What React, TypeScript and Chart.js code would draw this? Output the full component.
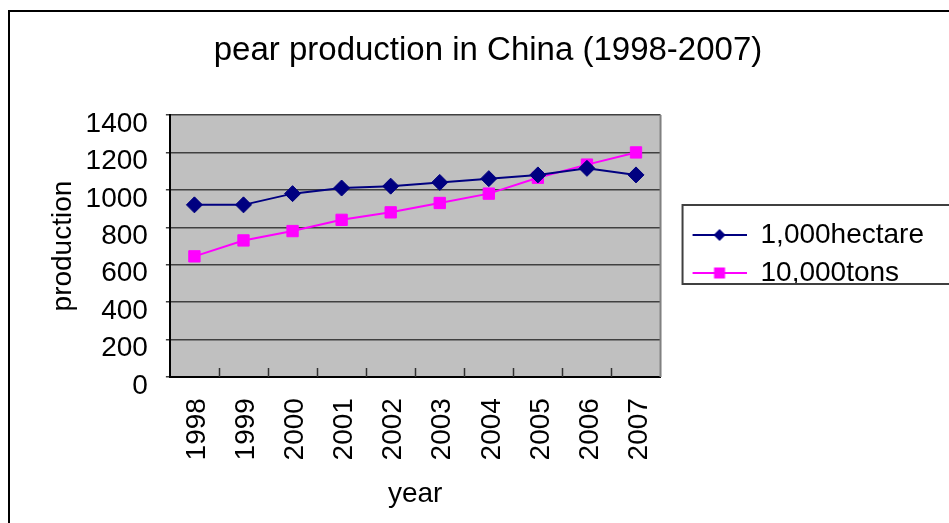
import React, { useEffect, useRef } from 'react';
import { Chart, registerables } from 'chart.js';

Chart.register(...registerables);

const years = ['1998', '1999', '2000', '2001', '2002', '2003', '2004', '2005', '2006', '2007'];
const hectares = [920, 920, 980, 1010, 1020, 1040, 1060, 1080, 1115, 1080];
const tons = [645, 730, 780, 840, 880, 930, 980, 1065, 1135, 1200];
const seriesNames = ['1,000hectare', '10,000tons'];
const chartTitle = 'pear production in China (1998-2007)';
const xTitle = 'year';
const yTitle = 'production';

const W = 1000;
const H = 560;
const FONT = 'Liberation Sans, Arial, Helvetica, sans-serif';
const NAVY = '#000080';
const MAGENTA = '#FF00FF';

function makeSample(color: string, style: string) {
  const c = document.createElement('canvas');
  c.width = 76;
  c.height = 22;
  const g = c.getContext('2d')!;
  g.strokeStyle = color;
  g.lineWidth = 2;
  g.beginPath();
  g.moveTo(22, 11);
  g.lineTo(76, 11);
  g.stroke();
  g.fillStyle = color;
  const cx = 49;
  const cy = 11;
  if (style === 'rectRot') {
    g.beginPath();
    g.moveTo(cx - 6, cy);
    g.lineTo(cx, cy - 6);
    g.lineTo(cx + 6, cy);
    g.lineTo(cx, cy + 6);
    g.closePath();
    g.fill();
  } else {
    g.fillRect(cx - 5.5, cy - 5.5, 11, 11);
  }
  return c;
}

const LEGEND_BOX_TOP = 205;
const LEGEND_BOX_H = 79;

const decorPlugin = {
  id: 'decor',
  afterLayout(chart: any) {
    const lg = chart.legend;
    if (lg && lg.columnSizes && lg.columnSizes.length === 1) {
      lg.top = 204;
      lg.bottom = 304;
    }
  },
  beforeDraw(chart: any) {
    const { ctx, chartArea } = chart;
    ctx.save();
    ctx.fillStyle = '#ffffff';
    ctx.fillRect(0, 0, chart.width, chart.height);
    ctx.strokeStyle = '#000';
    ctx.lineWidth = 2;
    ctx.strokeRect(9, 11, chart.width + 20, chart.height + 20);
    ctx.fillStyle = '#C0C0C0';
    ctx.fillRect(chartArea.left, chartArea.top, chartArea.right - chartArea.left, chartArea.bottom - chartArea.top);
    ctx.restore();
  },
  beforeDatasetsDraw(chart: any) {
    const { ctx, chartArea } = chart;
    const xs = chart.scales.x;
    ctx.save();
    ctx.strokeStyle = '#808080';
    ctx.lineWidth = 2;
    ctx.beginPath();
    ctx.moveTo(chartArea.right, chartArea.top);
    ctx.lineTo(chartArea.right, chartArea.bottom);
    ctx.stroke();
    ctx.strokeStyle = '#303030';
    ctx.lineWidth = 1.5;
    ctx.beginPath();
    for (let i = 1; i < years.length; i++) {
      const px = Math.round(xs.getPixelForValue(i - 0.5)) + 0.5;
      ctx.moveTo(px, chartArea.bottom);
      ctx.lineTo(px, chartArea.bottom - 9);
    }
    ctx.stroke();
    ctx.restore();
  },
  afterDraw(chart: any) {
    const lg = chart.legend;
    if (!lg) return;
    const ctx = chart.ctx;
    const bx = lg.left + 22;
    ctx.save();
    ctx.fillStyle = '#ffffff';
    ctx.fillRect(bx - 2, LEGEND_BOX_TOP + LEGEND_BOX_H, chart.width, 20);
    ctx.strokeStyle = '#404040';
    ctx.lineWidth = 2;
    ctx.strokeRect(bx, LEGEND_BOX_TOP, chart.width, LEGEND_BOX_H);
    ctx.restore();
  },
};

export default function App() {
  const ref = useRef<HTMLCanvasElement | null>(null);

  useEffect(() => {
    if (!ref.current) return;
    const samples = [makeSample(NAVY, 'rectRot'), makeSample(MAGENTA, 'rect')];
    const chart = new Chart(ref.current, {
      type: 'line',
      data: {
        labels: years,
        datasets: [
          {
            label: seriesNames[0],
            data: hectares,
            borderColor: NAVY,
            backgroundColor: NAVY,
            borderWidth: 2,
            pointStyle: 'rectRot',
            pointRadius: 8,
            pointBorderWidth: 1,
            tension: 0,
          },
          {
            label: seriesNames[1],
            data: tons,
            borderColor: MAGENTA,
            backgroundColor: MAGENTA,
            borderWidth: 2,
            pointStyle: 'rect',
            pointRadius: 8,
            pointBorderWidth: 1,
            tension: 0,
          },
        ],
      },
      options: {
        responsive: false,
        animation: false,
        devicePixelRatio: 1,
        layout: { padding: { left: 42, top: 12, right: 66, bottom: 49 } },
        plugins: {
          tooltip: { enabled: false },
          title: {
            display: true,
            text: chartTitle,
            color: '#000',
            font: { family: FONT, size: 33, weight: 'normal' },
            padding: { top: 19, bottom: 44.4 },
          },
          legend: {
            display: true,
            position: 'right',
            fullSize: false,
            maxWidth: 320,
            labels: {
              usePointStyle: true,
              pointStyleWidth: 76,
              padding: 10,
              color: '#000',
              font: { family: FONT, size: 28 },
              generateLabels: (ch: any) =>
                ch.data.datasets.map((ds: any, i: number) => ({
                  text: ds.label,
                  pointStyle: samples[i],
                  fillStyle: ds.backgroundColor,
                  strokeStyle: ds.borderColor,
                  lineWidth: 0,
                  hidden: false,
                  datasetIndex: i,
                  fontColor: '#000',
                })),
            },
          },
        },
        scales: {
          x: {
            type: 'category',
            offset: true,
            grid: { offset: true, drawOnChartArea: false, drawTicks: false },
            border: { display: true, color: '#000', width: 2 },
            ticks: {
              minRotation: 90,
              maxRotation: 90,
              autoSkip: false,
              padding: 21,
              labelOffset: 3,
              color: '#000',
              font: { family: FONT, size: 28 },
            },
            title: {
              display: true,
              text: xTitle,
              color: '#000',
              font: { family: FONT, size: 28 },
              padding: { top: -4, bottom: 0 },
            },
          },
          y: {
            min: 0,
            max: 1400,
            ticks: {
              stepSize: 200,
              autoSkip: false,
              padding: 18,
              labelOffset: 9,
              color: '#000',
              font: { family: FONT, size: 28 },
              callback: (v: any) => String(v),
            },
            grid: { color: '#404040', lineWidth: 1.5, tickLength: 4 },
            border: { display: true, color: '#000', width: 2 },
            title: {
              display: true,
              text: yTitle,
              color: '#000',
              font: { family: FONT, size: 28 },
              padding: { top: 4, bottom: -12 },
            },
          },
        },
      },
      plugins: [decorPlugin],
    } as any);
    return () => chart.destroy();
  }, []);

  return (
    <div
      style={{
        position: 'fixed',
        left: 0,
        top: 0,
        width: 949,
        height: 523,
        overflow: 'hidden',
        background: '#fff',
      }}
    >
      <canvas ref={ref} width={W} height={H} style={{ display: 'block' }} />
    </div>
  );
}
